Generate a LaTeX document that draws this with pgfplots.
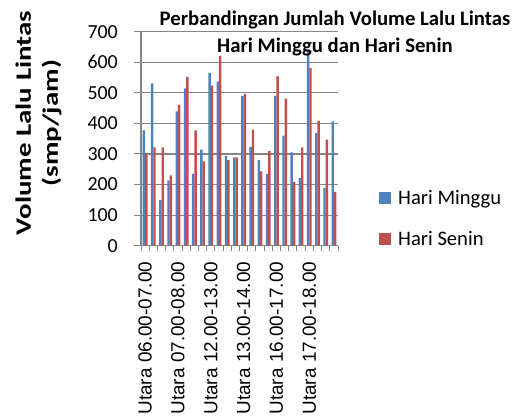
\documentclass[border=0pt]{standalone}
\usepackage{fontspec}
\setmainfont{Carlito}
\newfontfamily\arialfont{Liberation Sans}
\newfontfamily\ylabfont[FakeStretch=1.32]{Carlito}
\usepackage{pgfplots}
\pgfplotsset{compat=1.18}
\pgfplotsset{sqlegend/.style={legend image code/.code={\fill[##1] (0bp,-6bp) rectangle (12bp,6bp); \path (17bp,0bp);}}}
\definecolor{minggu}{HTML}{4F81BD}
\definecolor{senin}{HTML}{C0504D}
\definecolor{gridgray}{HTML}{868686}
\begin{document}
\begin{tikzpicture}[x=1bp,y=1bp]
\path[use as bounding box] (0,0) rectangle (519,416);
\begin{axis}[
  at={(141bp,170.3bp)}, anchor=south west,
  scale only axis, width=197bp, height=214bp,
  xmin=-0.5, xmax=23.5, ymin=0, ymax=700,
  ybar=0pt, bar width=2.4bp,
  axis lines*=left,
  axis line style={draw=gridgray, line width=1.2bp, -},
  ytick={0,100,...,700},
  ymajorgrids, grid style={draw=gridgray, line width=1.2bp},
  xtick={0,4,8,12,16,20},
  xticklabels={Utara 06.00-07.00, Utara 07.00-08.00, Utara 12.00-13.00, Utara 13.00-14.00, Utara 16.00-17.00, Utara 17.00-18.00},
  minor xtick={-0.5,0.5,...,23.5},
  tick align=outside,
  major tick length=7bp, minor tick length=5bp,
  every major x tick/.append style={draw=none},
  tick style={draw=gridgray, line width=1bp},
  /pgf/number format/assume math mode=true,
  yticklabel style={font=\fontsize{20}{24}\selectfont, inner sep=0pt},
  yticklabel shift=16bp,
  xticklabel style={font=\arialfont\fontsize{19}{23}\selectfont, rotate=90, anchor=east, inner sep=0pt},
  xticklabel shift=9bp,
  legend style={at={(rel axis cs:1,0.127)}, anchor=west, xshift=41bp, draw=none, fill=none,
    font=\fontsize{20.7}{24}\selectfont, row sep=22bp, inner sep=0pt},
  legend cell align=left,
]
\addplot[fill=minggu, draw=none, sqlegend] coordinates {
(0,377) (1,531) (2,149) (3,214) (4,439) (5,515) (6,235) (7,314) (8,565) (9,537) (10,294) (11,289)
(12,490) (13,323) (14,280) (15,235) (16,490) (17,360) (18,305) (19,221) (20,640) (21,368) (22,189) (23,407)};
\addlegendentry{Hari Minggu}
\addplot[fill=senin, draw=none, sqlegend] coordinates {
(0,304) (1,322) (2,322) (3,230) (4,461) (5,552) (6,377) (7,276) (8,524) (9,621) (10,280) (11,289)
(12,497) (13,380) (14,243) (15,309) (16,554) (17,481) (18,209) (19,322) (20,581) (21,408) (22,347) (23,176)};
\addlegendentry{Hari Senin}
\end{axis}
\node[align=center, anchor=north, inner sep=0pt, font=\bfseries\fontsize{20.8}{27}\selectfont] at (335,405) {Perbandingan Jumlah Volume Lalu Lintas\\Hari Minggu dan Hari Senin};
\node[rotate=90, align=center, inner sep=0pt, font={\ylabfont\bfseries\fontsize{22}{27}\selectfont}] at (38.5,293) {Volume Lalu Lintas\\(smp/jam)};
\end{tikzpicture}
\end{document}
